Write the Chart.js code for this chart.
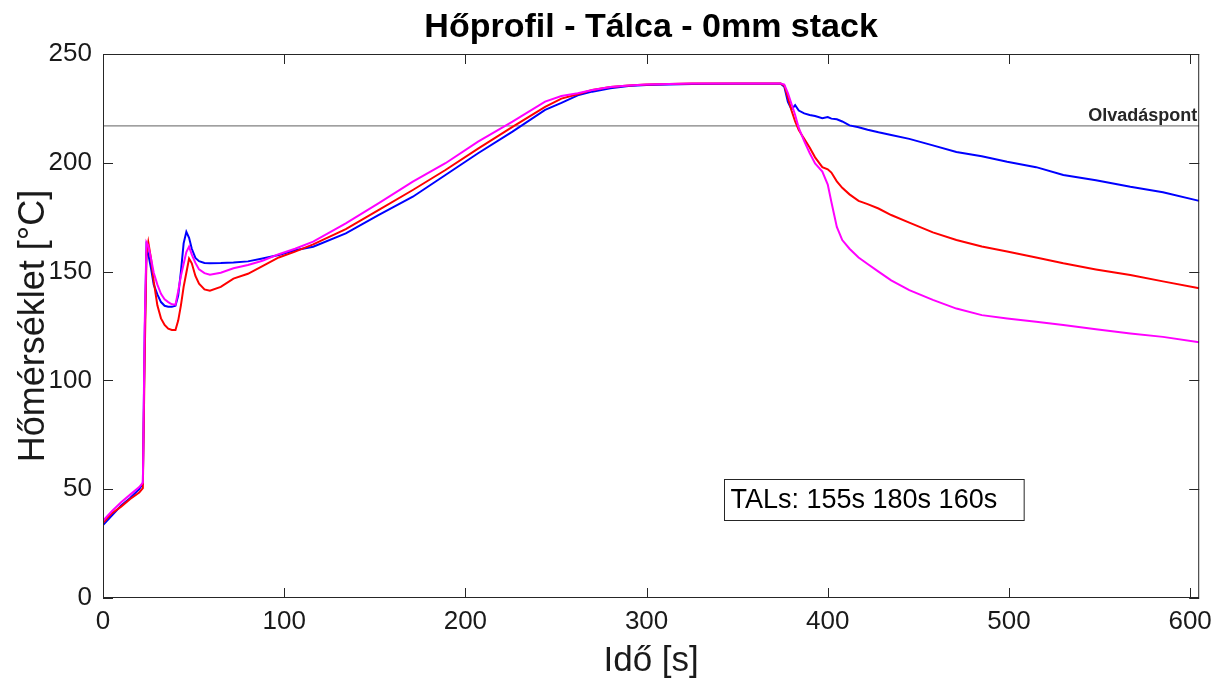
<!DOCTYPE html>
<html>
<head>
<meta charset="utf-8">
<script src="https://cdn.jsdelivr.net/npm/chart.js@4.4.1/dist/chart.umd.min.js"></script>
<style>
  html, body { margin: 0; padding: 0; background: #fff; }
  #wrap { width: 1220px; height: 684px; position: relative; }
</style>
</head>
<body>
<div id="wrap"><canvas id="hoprofil"></canvas></div>
<script>
// idő [s] - közös időtengely a három görbéhez
const ido = [0, 5, 10, 15, 20, 22, 23, 24, 25, 26.5, 28, 30, 32, 34, 36, 38, 40, 41.5, 43, 44.5,
  46, 47.5, 49, 51, 53, 56, 59, 65, 72, 80, 88, 97, 106, 116, 134, 152, 171, 189, 207, 226,
  244, 253, 262, 270, 280, 290, 300, 325, 350, 374, 376, 378, 380, 382, 384, 387, 390, 393, 397, 400,
  402, 405, 408, 412, 417, 422, 428, 435, 445, 458, 471, 485, 499, 515, 530, 548, 567, 585, 605];

const kek = [33.5, 38, 42.5, 46, 50, 52.5, 120, 161, 158, 151.5, 144, 139.5, 136, 134.3, 133.9, 133.8, 134.3, 139, 150, 163,
  168.3, 165.5, 160.5, 156.3, 154.8, 154, 153.8, 153.9, 154.2, 154.7, 156, 157.6, 159.8, 161.4, 167.6, 176, 184.4, 194.4, 204.4, 214.3,
  224.3, 227.5, 231, 232.7, 234.3, 235.3, 235.8, 236.2, 236.3, 236.3, 235, 228, 224.5, 226.5, 224, 222.7, 222, 221.5, 220.5, 221,
  220.3, 220, 219, 217.2, 216.3, 215.2, 214, 212.8, 211, 208, 205, 203, 200.5, 198, 194.4, 192, 189, 186.5, 182.5];

const piros = [34.5, 39, 42, 45.5, 48.5, 50.5, 110, 158, 163.5, 156, 145.5, 134.5, 128.5, 125.5, 123.8, 123.2, 123.2, 127.5, 134.5, 143,
  149.5, 156, 153.8, 148, 144.5, 141.8, 141.2, 143, 146.8, 149, 152.5, 156.5, 159.2, 162.5, 169.5, 178.2, 187.5, 196.7, 206.5, 216.5,
  225.7, 229.5, 231.5, 233.5, 234.8, 235.5, 236, 236.4, 236.5, 236.5, 235.5, 230, 224, 219, 215, 211, 207, 202.5, 198, 197,
  195.5, 191.5, 188.5, 185.5, 182.5, 181, 179, 176, 172.5, 168, 164.5, 161.5, 159.2, 156.5, 153.8, 151, 148.4, 145.5, 142.3];

const lila = [35.5, 40, 44, 47.5, 51, 53, 125, 163.5, 162, 156, 149.5, 144, 139.8, 137.3, 136, 135, 134.8, 141, 148, 153.5,
  159, 161.5, 157.8, 154, 151, 149.3, 148.6, 149.5, 151.5, 153, 155, 158, 160.5, 163.8, 172.2, 181.4, 191.3, 199.8, 209.7, 218.9,
  228.1, 230.7, 232, 233.5, 234.8, 235.5, 236, 236.4, 236.5, 236.5, 236, 232, 227, 222, 216, 210, 204.5, 199.7, 196, 190,
  182, 170.5, 164.5, 160.5, 156.5, 153.5, 150, 146, 141.5, 137, 133, 130, 128.5, 127, 125.5, 123.5, 121.6, 120, 117.5];

const olvadaspont = 217;
const xTicks = [0, 100, 200, 300, 400, 500, 600];
const yTicks = [0, 50, 100, 150, 200, 250];
const talSzoveg = "TALs: 155s 180s 160s";
const talHely = [343, 54.5]; // doboz bal felső sarka adatkoordinátában

const FONT = "'Liberation Sans', Arial, Helvetica, sans-serif";
const AXIS_COLOR = "#262626";

function pontok(ys) {
  return ido.map((t, i) => ({ x: t, y: ys[i] }));
}

const keret = {
  id: "keret",
  afterDraw(chart) {
    const { ctx, chartArea: a, scales } = chart;
    const xs = scales.x, ys = scales.y;
    ctx.save();
    // tengelydoboz
    ctx.strokeStyle = AXIS_COLOR;
    ctx.lineWidth = 1;
    ctx.strokeRect(a.left + 0.5, a.top + 0.5, a.right - a.left - 1, a.bottom - a.top - 1);
    // befelé mutató osztások
    const tl = 10;
    ctx.beginPath();
    xTicks.forEach(v => {
      const px = Math.round(xs.getPixelForValue(v)) + 0.5;
      ctx.moveTo(px, a.bottom); ctx.lineTo(px, a.bottom - tl);
      ctx.moveTo(px, a.top); ctx.lineTo(px, a.top + tl);
    });
    yTicks.forEach(v => {
      const py = Math.round(ys.getPixelForValue(v)) + 0.5;
      ctx.moveTo(a.left, py); ctx.lineTo(a.left + tl, py);
      ctx.moveTo(a.right, py); ctx.lineTo(a.right - tl, py);
    });
    ctx.stroke();

    // cím
    ctx.fillStyle = "#000";
    ctx.font = "bold 34px " + FONT;
    ctx.textAlign = "center";
    ctx.textBaseline = "middle";
    ctx.fillText("Hőprofil - Tálca - 0mm stack", (a.left + a.right) / 2, 28);

    // olvadáspont felirat
    ctx.fillStyle = "#262626";
    ctx.font = "bold 18px " + FONT;
    ctx.textAlign = "right";
    ctx.textBaseline = "alphabetic";
    ctx.fillText("Olvadáspont", a.right - 2, ys.getPixelForValue(olvadaspont) - 5);

    // TAL doboz
    ctx.font = "27px " + FONT;
    const w = ctx.measureText(talSzoveg).width;
    const bx = Math.round(xs.getPixelForValue(talHely[0])) + 0.5;
    const by = Math.round(ys.getPixelForValue(talHely[1])) + 0.5;
    ctx.fillStyle = "#fff";
    ctx.fillRect(bx, by, w + 33, 41);
    ctx.strokeStyle = AXIS_COLOR;
    ctx.strokeRect(bx, by, w + 33, 41);
    ctx.fillStyle = "#000";
    ctx.textAlign = "left";
    ctx.textBaseline = "middle";
    ctx.fillText(talSzoveg, bx + 6, by + 21);
    ctx.restore();
  }
};

new Chart(document.getElementById("hoprofil"), {
  type: "line",
  data: {
    datasets: [
      { label: "3", data: pontok(lila), borderColor: "#ff00ff" },
      { label: "2", data: pontok(piros), borderColor: "#ff0000" },
      { label: "1", data: pontok(kek), borderColor: "#0000ff" },
      {
        label: "Olvadáspont",
        data: [{ x: 0, y: olvadaspont }, { x: 605, y: olvadaspont }],
        borderColor: "#808080",
        borderWidth: 1.3
      }
    ]
  },
  options: {
    responsive: true,
    maintainAspectRatio: false,
    animation: false,
    devicePixelRatio: 1,
    layout: { padding: { top: 54, right: 20, left: 0, bottom: 0 } },
    elements: {
      point: { radius: 0, hoverRadius: 0 },
      line: { borderWidth: 2, tension: 0, fill: false }
    },
    plugins: {
      legend: { display: false },
      tooltip: { enabled: false },
      title: { display: false }
    },
    scales: {
      x: {
        type: "linear",
        min: 0,
        max: 605,
        afterBuildTicks: s => { s.ticks = xTicks.map(v => ({ value: v })); },
        afterFit: s => { s.height = 86; },
        grid: { display: false, drawTicks: false },
        border: { display: false },
        ticks: { font: { family: FONT, size: 26 }, color: "#1a1a1a", padding: 8, maxRotation: 0, autoSkip: false },
        title: { display: true, text: "Idő [s]", font: { family: FONT, size: 35 }, color: "#1a1a1a", padding: { top: 0, bottom: 2 } }
      },
      y: {
        type: "linear",
        min: 0,
        max: 250,
        afterBuildTicks: s => { s.ticks = yTicks.map(v => ({ value: v })); },
        afterFit: s => { s.width = 103; },
        grid: { display: false, drawTicks: false },
        border: { display: false },
        ticks: { font: { family: FONT, size: 26 }, color: "#1a1a1a", padding: 11, autoSkip: false },
        title: { display: true, text: "Hőmérséklet [°C]", font: { family: FONT, size: 36 }, color: "#1a1a1a", padding: { top: 12, bottom: 0 } }
      }
    }
  },
  plugins: [keret]
});
</script>
</body>
</html>
